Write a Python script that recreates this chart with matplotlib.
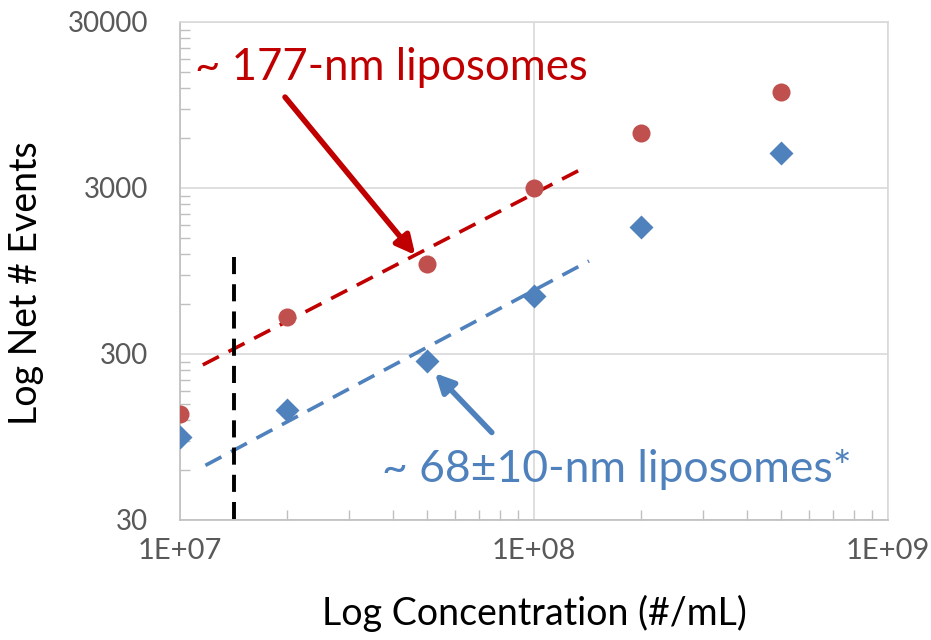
import numpy as np
import matplotlib.pyplot as plt
from matplotlib.ticker import FixedLocator, NullFormatter

# data
conc = [1e7, 2e7, 5e7, 1e8, 2e8, 5e8]
events_177nm = [130, 500, 1050, 3000, 6400, 11400]
events_68nm = [95, 138, 272, 674, 1750, 4900]

# dashed guide lines (end points)
fit_red_x = [1.16e7, 1.39e8]
fit_red_y = [258, 3990]
fit_blue_x = [1.18e7, 1.43e8]
fit_blue_y = [64, 1090]

# vertical limit line (drawn top -> bottom)
limit_x = 1.42e7
limit_y = [1150, 30]

y_major = [30, 300, 3000, 30000]
y_minor = [m * d for d in (30, 300, 3000) for m in range(2, 10)]
x_major = [1e7, 1e8, 1e9]
x_minor = [m * d for d in (1e7, 1e8) for m in range(2, 10)]

red_txt = '#C00000'
red_pt = '#C0504D'
blue = '#4F81BD'
grey_txt = '#595959'

plt.rcParams['font.family'] = ['Lato', 'DejaVu Sans']

fig = plt.figure(figsize=(9.31, 6.4), dpi=100)
ax = fig.add_axes([180/931, 120/640, 708/931, 498/640])
ax.set_xscale('log')
ax.set_yscale('log')
ax.set_xlim(1e7, 1e9)
ax.set_ylim(30, 30000)

ax.xaxis.set_major_locator(FixedLocator(x_major))
ax.xaxis.set_minor_locator(FixedLocator(x_minor))
ax.yaxis.set_major_locator(FixedLocator(y_major))
ax.yaxis.set_minor_locator(FixedLocator(y_minor))
ax.set_xticklabels(['1E+07', '1E+08', '1E+09'])
ax.set_yticklabels([str(v) for v in y_major])
ax.xaxis.set_minor_formatter(NullFormatter())
ax.yaxis.set_minor_formatter(NullFormatter())

ax.grid(True, which='major', color='#D9D9D9', lw=1.2)
ax.set_axisbelow(True)
for s in ax.spines.values():
    s.set_color('#D9D9D9')
    s.set_linewidth(1.2)
ax.spines['left'].set_color('#BFBFBF')
ax.spines['bottom'].set_color('#BFBFBF')
ax.tick_params(which='major', length=0, labelsize=20, labelcolor=grey_txt)
ax.tick_params(axis='x', which='major', labelsize=21)
ax.tick_params(axis='y', which='major', pad=23)
ax.tick_params(axis='x', which='major', pad=13)
ax.tick_params(which='minor', direction='in', length=7, width=1, color='#BFBFBF')

# guide lines
ax.plot(fit_red_x, fit_red_y, color=red_txt, lw=2.6, dashes=(5, 3))
ax.plot(fit_blue_x, fit_blue_y, color=blue, lw=2.6, dashes=(5, 3))
ax.plot([limit_x, limit_x], limit_y, color='black', lw=2.8, dashes=(4.4, 2.6), clip_on=False)

# data
ax.plot(conc, events_177nm, 'o', color=red_pt, ms=13, mec='none', zorder=5)
ax.plot(conc, events_68nm, 'D', color=blue, ms=12, mec='none', zorder=5)

# annotations
ax.text(1.10e7, 13400, '~ 177-nm liposomes', color=red_txt, fontsize=31.5, va='baseline')
ax.annotate('', xy=(4.62e7, 1184), xytext=(1.98e7, 10590),
            arrowprops=dict(arrowstyle='-|>', color=red_txt, lw=4, mutation_scale=28,
                            shrinkA=0, shrinkB=0))
ax.text(3.72e7, 50.6, '~ 68\u00b110-nm liposomes*', color=blue, fontsize=32, va='baseline')
ax.annotate('', xy=(5.25e7, 230), xytext=(7.6e7, 101),
            arrowprops=dict(arrowstyle='-|>', color=blue, lw=4, mutation_scale=28,
                            shrinkA=0, shrinkB=0))

ax.set_xlabel('Log Concentration (#/mL)', fontsize=27, labelpad=22)
ax.set_ylabel('Log Net # Events', fontsize=27)
ax.yaxis.set_label_coords(-0.192, 0.475)

fig.savefig('out.png', dpi=100)
